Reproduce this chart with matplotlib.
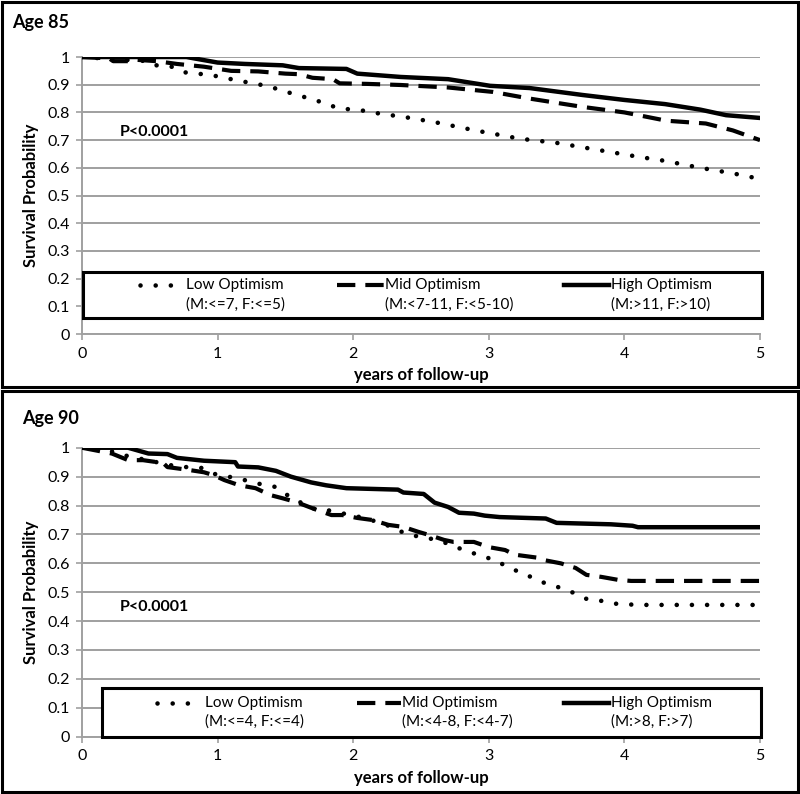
import matplotlib.pyplot as plt
from matplotlib.patches import Rectangle

plt.rcParams['font.family'] = ['Lato', 'DejaVu Sans']

# Age 85 curves (years, survival)
t85_low = [0, 0.3, 0.5, 0.55, 0.66, 0.75, 0.85, 0.95, 1.05, 1.15, 1.26, 1.37, 1.47, 1.57, 1.68, 1.78,
           1.89, 2.0, 2.1, 2.2, 2.37, 2.6, 2.9, 3.23, 3.5, 3.8, 4.1, 4.3, 4.56, 4.8, 5.0]
s85_low = [1.0, 0.99, 0.985, 0.97, 0.965, 0.945, 0.94, 0.935, 0.925, 0.915, 0.905, 0.895, 0.88, 0.865, 0.85, 0.835,
           0.815, 0.81, 0.805, 0.795, 0.784, 0.765, 0.735, 0.705, 0.69, 0.665, 0.64, 0.625, 0.60, 0.58, 0.56]
t85_mid = [0, 0.2, 0.23, 0.35, 0.4, 0.55, 0.7, 0.8, 0.9, 1.1, 1.3, 1.5, 1.6, 1.7, 1.85, 1.9, 2.1, 2.35,
           2.7, 3.03, 3.3, 3.69, 4.0, 4.31, 4.6, 4.8, 5.0]
s85_mid = [1.0, 0.995, 0.985, 0.985, 0.99, 0.985, 0.975, 0.97, 0.965, 0.95, 0.948, 0.94, 0.938, 0.925, 0.92, 0.905, 0.903, 0.899,
           0.89, 0.874, 0.85, 0.82, 0.80, 0.77, 0.76, 0.735, 0.70]
t85_high = [0, 0.77, 1.0, 1.2, 1.48, 1.6, 1.95, 2.03, 2.35, 2.7, 3.01, 3.3, 3.69, 4.0, 4.3, 4.56, 4.75, 5.0]
s85_high = [1.0, 1.0, 0.98, 0.975, 0.97, 0.96, 0.957, 0.94, 0.928, 0.92, 0.896, 0.888, 0.863, 0.845, 0.83, 0.81, 0.79, 0.78]

# Age 90 curves
t90_low = [0, 0.2, 0.3, 0.5, 0.7, 0.88, 0.97, 1.1, 1.2, 1.35, 1.42, 1.5, 1.69, 1.8, 2.1, 2.26, 2.4, 2.63, 2.82,
           3.05, 3.14, 3.33, 3.42, 3.53, 3.63, 3.72, 3.83, 3.94, 4.1, 5.0]
s90_low = [1.0, 0.99, 0.975, 0.955, 0.935, 0.93, 0.91, 0.898, 0.888, 0.87, 0.865, 0.84, 0.79, 0.785, 0.755, 0.73, 0.70,
           0.68, 0.645, 0.61, 0.587, 0.549, 0.53, 0.515, 0.497, 0.477, 0.47, 0.46, 0.456, 0.456]
t90_mid = [0, 0.22, 0.34, 0.45, 0.6, 0.63, 0.79, 0.9, 0.97, 1.05, 1.16, 1.28, 1.39, 1.48, 1.58, 1.73, 1.84, 1.92, 2.03,
           2.14, 2.26, 2.37, 2.48, 2.56, 2.67, 2.74, 2.89, 3.0, 3.12, 3.19, 3.35, 3.42, 3.53, 3.64, 3.72, 3.83, 3.95, 4.05, 5.0]
s90_mid = [1.0, 0.98, 0.957, 0.957, 0.947, 0.933, 0.923, 0.915, 0.905, 0.888, 0.87, 0.86, 0.836, 0.825, 0.812, 0.785, 0.767,
           0.767, 0.757, 0.75, 0.733, 0.726, 0.709, 0.698, 0.681, 0.674, 0.674, 0.656, 0.646, 0.63, 0.62, 0.61, 0.60, 0.584,
           0.56, 0.553, 0.543, 0.539, 0.539]
t90_high = [0, 0.34, 0.49, 0.63, 0.7, 0.9, 1.13, 1.15, 1.3, 1.43, 1.54, 1.69, 1.8, 1.95, 2.33, 2.37, 2.52, 2.6, 2.7, 2.78,
            2.89, 2.97, 3.08, 3.42, 3.5, 3.9, 4.06, 4.1, 5.0]
s90_high = [1.0, 1.0, 0.98, 0.978, 0.965, 0.955, 0.95, 0.935, 0.932, 0.92, 0.90, 0.88, 0.87, 0.86, 0.855, 0.845, 0.84, 0.81,
            0.795, 0.775, 0.772, 0.765, 0.76, 0.755, 0.74, 0.735, 0.73, 0.725, 0.725]

labels85 = [('Low Optimism', '(M:<=7, F:<=5)'), ('Mid Optimism', '(M:<7-11, F:<5-10)'), ('High Optimism', '(M:>11, F:>10)')]
labels90 = [('Low Optimism', '(M:<=4, F:<=4)'), ('Mid Optimism', '(M:<4-8, F:<4-7)'), ('High Optimism', '(M:>8, F:>7)')]

xticks = [0, 1, 2, 3, 4, 5]
yticks = [0, 0.1, 0.2, 0.3, 0.4, 0.5, 0.6, 0.7, 0.8, 0.9, 1]
ytick_labels = ['0', '0.1', '0.2', '0.3', '0.4', '0.5', '0.6', '0.7', '0.8', '0.9', '1']

styles = [
    dict(color='black', lw=3.3, linestyle=(0, (0.01, 3.3)), dash_capstyle='round', solid_capstyle='round'),
    dict(color='black', lw=3.0, linestyle=(0, (4.4, 2.4))),
    dict(color='black', lw=3.2, linestyle='-'),
]

fig = plt.figure(figsize=(8, 7.94), dpi=100)

# outer frames of the two panels
fig.patches.append(Rectangle((0.002, 0.512), 0.995, 0.486, transform=fig.transFigure,
                             fill=False, lw=2.2, ec='black'))
fig.patches.append(Rectangle((0.002, 0.002), 0.995, 0.505, transform=fig.transFigure,
                             fill=False, lw=2.2, ec='black'))


def draw_panel(ax, curves, labels, leg_box, handle_x, text_x, leg_rows, p_y):
    for (t, s), st in zip(curves, styles):
        ax.plot(t, s, zorder=3, **st)
    ax.set_xlim(0, 5)
    ax.set_ylim(0, 1)
    ax.set_xticks(xticks)
    ax.set_yticks(yticks)
    ax.set_yticklabels(ytick_labels)
    ax.tick_params(labelsize=11.5, color='#a0a0a0', length=4, width=1.2, direction='out', pad=5)
    ax.yaxis.grid(True, color='#9f9f9f', lw=1.4)
    ax.set_axisbelow(True)
    for side in ['top', 'right']:
        ax.spines[side].set_visible(False)
    for side in ['left', 'bottom']:
        ax.spines[side].set_color('#a0a0a0')
        ax.spines[side].set_linewidth(1.4)
    ax.set_xlabel('years of follow-up', fontsize=12, fontweight='bold', labelpad=5)
    ax.set_ylabel('Survival Probability', fontsize=12, fontweight='bold', labelpad=6)
    ax.text(0.055, p_y, 'P<0.0001', transform=ax.transAxes, fontsize=11.5, fontweight='bold',
            va='center', ha='left')

    # legend box
    x0, y0, w, h = leg_box
    ax.add_patch(Rectangle((x0, y0), w, h, transform=ax.transAxes, fc='white', ec='black',
                           lw=2.2, zorder=4, clip_on=False))
    r1, r2 = leg_rows
    for (l1, l2), st, hx, tx in zip(labels, styles, handle_x, text_x):
        ax.plot(hx, [r1, r1], transform=ax.transAxes, clip_on=False, zorder=5, **st)
        ax.text(tx, r1, l1, transform=ax.transAxes, fontsize=11, va='center', ha='left', zorder=5)
        ax.text(tx, r2, l2, transform=ax.transAxes, fontsize=11, va='center', ha='left', zorder=5)


ax1 = fig.add_axes([0.1025, 0.5793, 0.8475, 0.3489])
draw_panel(ax1,
           [(t85_low, s85_low), (t85_mid, s85_mid), (t85_high, s85_high)],
           labels85,
           leg_box=(0.002, 0.058, 1.001, 0.166),
           handle_x=[(0.085, 0.136), (0.376, 0.445), (0.711, 0.777)],
           text_x=[0.153, 0.447, 0.780],
           leg_rows=(0.177, 0.105),
           p_y=0.73)

ax2 = fig.add_axes([0.1025, 0.0722, 0.8475, 0.3639])
draw_panel(ax2,
           [(t90_low, s90_low), (t90_mid, s90_mid), (t90_high, s90_high)],
           labels90,
           leg_box=(0.0295, 0.0, 0.972, 0.168),
           handle_x=[(0.111, 0.162), (0.406, 0.470), (0.711, 0.777)],
           text_x=[0.181, 0.472, 0.780],
           leg_rows=(0.117, 0.051),
           p_y=0.449)

fig.text(0.015, 0.972, 'Age 85', fontsize=13, fontweight='bold', va='center', ha='left')
fig.text(0.027, 0.473, 'Age 90', fontsize=13, fontweight='bold', va='center', ha='left')

fig.savefig('out.png', dpi=100)
